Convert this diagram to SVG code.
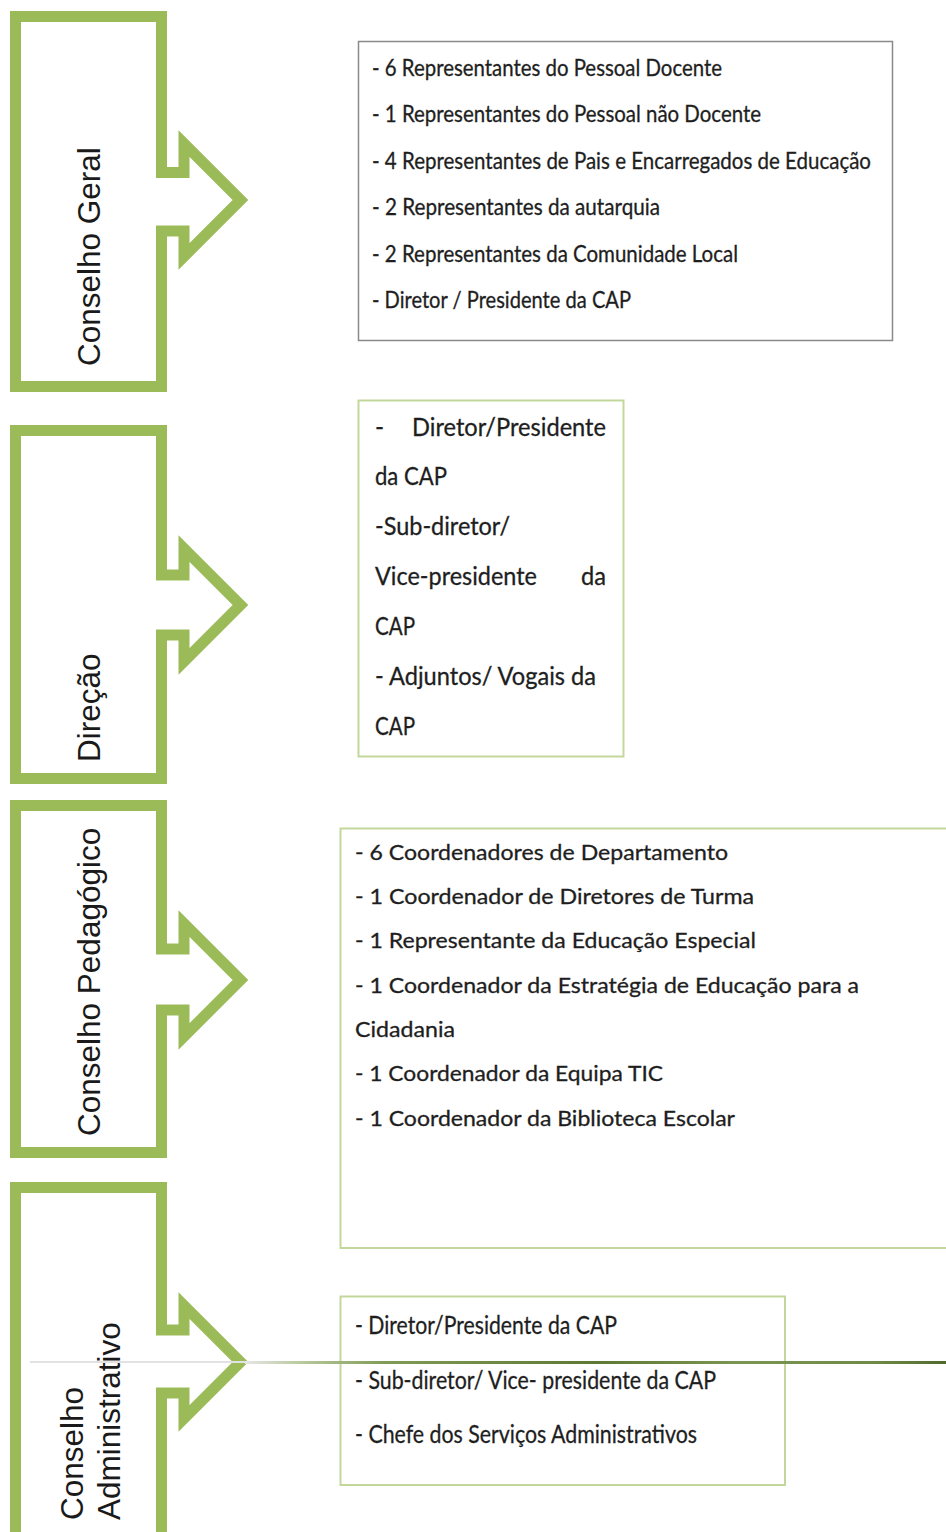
<svg xmlns="http://www.w3.org/2000/svg" width="946" height="1532" viewBox="0 0 946 1532">
<style>
.shape{fill:#ffffff;stroke:#9bbb59;stroke-width:11;stroke-linejoin:miter;stroke-miterlimit:10}
.lbl{font-family:"Liberation Sans",Arial,sans-serif;font-size:31.5px;fill:#1a1a1a}
.box-gray{fill:#ffffff;stroke:#8a8a8a;stroke-width:1.5}
.box-green{fill:#ffffff;stroke:#c4d79b;stroke-width:2}
.t{font-family:Lato,"Open Sans",sans-serif;fill:#1e1e1e;stroke:#1e1e1e;stroke-width:0.3}
.t1{font-size:22.5px}
.t2{font-size:24.5px}
.t3{font-size:21.5px}
.t4{font-size:25px}
</style>
<defs>
<linearGradient id="lineGrad" x1="245" y1="0" x2="946" y2="0" gradientUnits="userSpaceOnUse">
<stop offset="0" stop-color="#e6e6e6"/>
<stop offset="0.08" stop-color="#b9c9a0"/>
<stop offset="0.2" stop-color="#7f9b56"/>
<stop offset="0.5" stop-color="#5d7a35"/>
<stop offset="0.7" stop-color="#7a9652"/>
<stop offset="0.9" stop-color="#6e8a47"/>
<stop offset="1" stop-color="#4f6a2c"/>
</linearGradient>
</defs>

<g id="conselho-geral">
<path class="shape" d="M15.5 16.5 H161.5 V172.5 H184 V143.5 L240.5 200 L184 256.5 V231 H161.5 V386.5 H15.5 Z"/>
<text class="lbl" transform="translate(100,366) rotate(-90)">Conselho Geral</text>
</g>

<g id="direcao">
<path class="shape" d="M15.5 430.5 H161.5 V575 H184 V548.5 L240.5 605 L184 661.5 V635 H161.5 V778.5 H15.5 Z"/>
<text class="lbl" transform="translate(100,762) rotate(-90)">Direção</text>
</g>

<g id="conselho-pedagogico">
<path class="shape" d="M15.5 805.5 H161.5 V949 H184 V923.5 L240.5 980 L184 1036.5 V1010 H161.5 V1152.5 H15.5 Z"/>
<text class="lbl" transform="translate(100,1136) rotate(-90)">Conselho Pedagógico</text>
</g>

<g id="conselho-administrativo">
<path class="shape" d="M15.5 1187.5 H161.5 V1330 H184 V1305.5 L240.5 1362 L184 1418.5 V1393 H161.5 V1545 H15.5 Z"/>
<text class="lbl" transform="translate(83,1520) rotate(-90)">Conselho</text>
<text class="lbl" transform="translate(120,1520) rotate(-90)">Administrativo</text>
</g>

<g id="box-conselho-geral">
<rect class="box-gray" x="358.5" y="41.5" width="534" height="299"/>
<text class="t t1" x="372" y="75.5" textLength="350" lengthAdjust="spacingAndGlyphs">- 6 Representantes do Pessoal Docente</text>
<text class="t t1" x="372" y="121.5" textLength="389" lengthAdjust="spacingAndGlyphs">- 1 Representantes do Pessoal não Docente</text>
<text class="t t1" x="372" y="168.5" textLength="499" lengthAdjust="spacingAndGlyphs">- 4 Representantes de Pais e Encarregados de Educação</text>
<text class="t t1" x="372" y="214.5" textLength="288" lengthAdjust="spacingAndGlyphs">- 2 Representantes da autarquia</text>
<text class="t t1" x="372" y="261.5" textLength="366" lengthAdjust="spacingAndGlyphs">- 2 Representantes da Comunidade Local</text>
<text class="t t1" x="372" y="307.5" textLength="259" lengthAdjust="spacingAndGlyphs">- Diretor / Presidente da CAP</text>
</g>

<g id="box-direcao">
<rect class="box-green" x="358.5" y="400.5" width="265" height="356"/>
<text class="t t2" x="375" y="436">-</text>
<text class="t t2" x="412" y="436" textLength="194" lengthAdjust="spacingAndGlyphs">Diretor/Presidente</text>
<text class="t t2" x="375" y="485" textLength="72" lengthAdjust="spacingAndGlyphs">da CAP</text>
<text class="t t2" x="375" y="535" textLength="135" lengthAdjust="spacingAndGlyphs">-Sub-diretor/</text>
<text class="t t2" x="375" y="585" textLength="162" lengthAdjust="spacingAndGlyphs">Vice-presidente</text>
<text class="t t2" x="581" y="585" textLength="25" lengthAdjust="spacingAndGlyphs">da</text>
<text class="t t2" x="375" y="635" textLength="40" lengthAdjust="spacingAndGlyphs">CAP</text>
<text class="t t2" x="375" y="685" textLength="221" lengthAdjust="spacingAndGlyphs">- Adjuntos/ Vogais da</text>
<text class="t t2" x="375" y="735" textLength="40" lengthAdjust="spacingAndGlyphs">CAP</text>
</g>

<g id="box-conselho-pedagogico">
<rect class="box-green" x="340.5" y="828.5" width="612" height="419.5"/>
<text class="t t3" x="355" y="860" textLength="373" lengthAdjust="spacingAndGlyphs">- 6 Coordenadores de Departamento</text>
<text class="t t3" x="355" y="904" textLength="399" lengthAdjust="spacingAndGlyphs">- 1 Coordenador de Diretores de Turma</text>
<text class="t t3" x="355" y="948" textLength="401" lengthAdjust="spacingAndGlyphs">- 1 Representante da Educação Especial</text>
<text class="t t3" x="355" y="993" textLength="504" lengthAdjust="spacingAndGlyphs">- 1 Coordenador da Estratégia de Educação para a</text>
<text class="t t3" x="355" y="1037" textLength="100" lengthAdjust="spacingAndGlyphs">Cidadania</text>
<text class="t t3" x="355" y="1081" textLength="308" lengthAdjust="spacingAndGlyphs">- 1 Coordenador da Equipa TIC</text>
<text class="t t3" x="355" y="1126" textLength="380" lengthAdjust="spacingAndGlyphs">- 1 Coordenador da Biblioteca Escolar</text>
</g>

<g id="box-conselho-administrativo">
<rect class="box-green" x="340.5" y="1296.5" width="444.5" height="188.5"/>
<text class="t t4" x="355" y="1334" textLength="262" lengthAdjust="spacingAndGlyphs">- Diretor/Presidente da CAP</text>
<text class="t t4" x="355" y="1389" textLength="361" lengthAdjust="spacingAndGlyphs">- Sub-diretor/ Vice- presidente da CAP</text>
<text class="t t4" x="355" y="1443" textLength="342" lengthAdjust="spacingAndGlyphs">- Chefe dos Serviços Administrativos</text>
</g>

<g id="connectors">
<line x1="30" y1="1362" x2="245" y2="1362" stroke="#e2e2e2" stroke-width="2"/>
<line x1="245" y1="1362.5" x2="946" y2="1362.5" stroke="url(#lineGrad)" stroke-width="3"/>
</g>
</svg>
